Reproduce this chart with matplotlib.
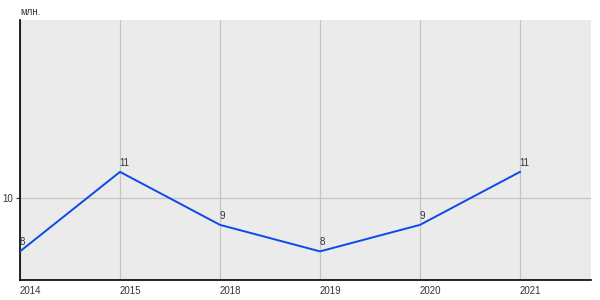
import matplotlib.pyplot as plt

plt.rcParams["font.family"] = ["Liberation Sans", "DejaVu Sans"]

# data
years = ["2014", "2015", "2018", "2019", "2020", "2021"]
values = [8.0, 11.0, 9.0, 8.0, 9.0, 11.0]
labels = ["8", "11", "9", "8", "9", "11"]
y_ticks = [10]

fig = plt.figure(figsize=(6, 3), dpi=100)
ax = fig.add_axes([20 / 600, 20 / 300, 571 / 600, 260 / 300])
ax.set_facecolor("#ebebeb")

x = list(range(len(years)))
ax.plot(x, values, color="#0a4be6", linewidth=1.4, zorder=3)

for xi, v, lab in zip(x, values, labels):
    ax.annotate(lab, (xi, v), xytext=(-0.5, 3), textcoords="offset points",
                fontsize=7, color="#333333", ha="left", va="bottom")

ax.set_xlim(0, 5.71)
ax.set_ylim(6.92, 16.73)
ax.set_xticks(x)
ax.set_xticklabels(years, fontsize=7, color="#333333", ha="left")
ax.set_yticks(y_ticks)
ax.set_yticklabels([str(t) for t in y_ticks], fontsize=7, color="#333333")
ax.tick_params(axis="x", length=0, pad=4)
ax.tick_params(axis="y", length=3, pad=2, color="#333333")

ax.grid(True, color="#c4c4c4", linewidth=0.9)
ax.set_axisbelow(True)
for side in ["top", "right"]:
    ax.spines[side].set_visible(False)
for side in ["left", "bottom"]:
    ax.spines[side].set_color("black")
    ax.spines[side].set_linewidth(1.2)

fig.text(20 / 600, 1 - 12 / 300, "млн.", fontsize=7, color="#333333",
         ha="left", va="center")

fig.savefig("out.png", dpi=100)
